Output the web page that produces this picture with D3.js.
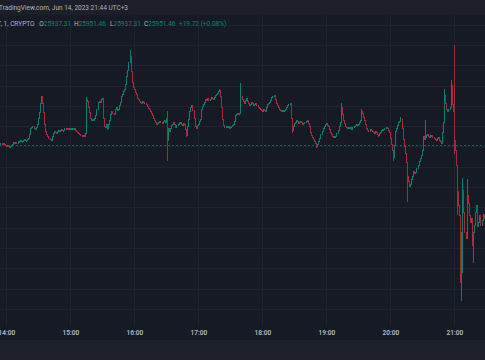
<!DOCTYPE html>
<html>
<head>
<meta charset="utf-8">
<script src="https://cdn.jsdelivr.net/npm/d3@7"></script>
<style>
  html, body { margin: 0; padding: 0; background: #161a25; }
  svg { display: block; font-family: Roboto, "Noto Sans", sans-serif; }
</style>
</head>
<body>
<div id="chart"></div>
<script>
// 1 minute candles, 13:54 -> 21:28 (UTC+3), closes
const closes = [
  26002,26003,26002,26003,26002,26001,26000,26001,26000,25999,26000,26001,26002,26004,26003,
  26004,26003,26005,26005,26006,26005,26005,26006,26007,26006,26006,26007,26008,26012,26018,
  26019,26020,26018,26017,26019,26022,26028,26033,26042,26049,26042,26033,26022,26015,26012,
  26010,26008,26007,26006,26010,26013,26015,26014,26013,26015,26016,26015,26016,26017,26016,
  26016,26018,26017,26018,26017,26018,26018,26017,26018,26017,26018,26016,26015,26014,26013,
  26012,26011,26010,26011,26010,26013,26046,26044,26038,26033,26028,26026,26027,26026,26028,
  26030,26036,26043,26044,26043,26046,26047,26028,26020,26019,26022,26018,26022,26026,26031,
  26034,26032,26031,26036,26038,26035,26036,26040,26043,26049,26051,26054,26056,26061,26069,
  26075,26083,26089,26074,26063,26058,26056,26053,26051,26047,26046,26044,26043,26042,26044,
  26043,26042,26041,26039,26037,26036,26034,26032,26030,26028,26026,26024,26022,26023,26024,
  26025,26024,26023,26025,26026,26024,26028,26006,26018,26015,26018,26021,26022,26024,26022,
  26019,26021,26022,26024,26024,26022,26021,26023,26022,26017,26011,26020,26027,26034,26038,
  26040,26035,26028,26020,26018,26021,26022,26025,26027,26036,26039,26041,26043,26046,26045,
  26047,26045,26046,26048,26047,26046,26048,26050,26051,26052,26054,26055,26049,26038,26027,
  26021,26019,26020,26019,26020,26018,26019,26020,26021,26022,26025,26030,26031,26032,26031,
  26032,26049,26046,26044,26042,26045,26047,26044,26042,26040,26041,26043,26042,26040,26041,
  26042,26040,26038,26037,26036,26035,26034,26036,26035,26034,26038,26041,26042,26043,26045,
  26048,26049,26050,26046,26042,26040,26038,26036,26035,26034,26035,26034,26035,26036,26038,
  26040,26041,26042,26028,26016,26020,26023,26024,26026,26025,26023,26024,26025,26024,26022,
  26023,26024,26025,26026,26023,26020,26014,26011,26009,26007,26005,26003,26000,26002,26005,
  26008,26012,26015,26018,26020,26022,26023,26021,26020,26017,26014,26012,26010,26009,26010,
  26010,26013,26016,26020,26024,26038,26031,26026,26023,26020,26019,26018,26019,26018,26019,
  26017,26019,26020,26021,26022,26021,26022,26024,26026,26034,26032,26029,26026,26022,26018,
  26016,26015,26017,26016,26015,26014,26013,26015,26014,26012,26011,26013,26014,26016,26017,
  26017,26018,26019,26018,26016,26014,26008,26002,25996,25989,26001,26015,26018,26021,26024,
  26025,26027,26018,26007,26000,25993,25984,25970,25965,25961,25963,25967,25970,25975,25973,
  25974,25978,25981,25985,25988,25991,25996,26010,26007,26009,26011,26012,26010,26009,26011,
  26011,26009,26008,26007,26006,26008,26009,26006,26005,26003,26014,26024,26050,26042,26036,
  26034,26036,26038,26060,26041,26034,26006,25996,25981,25956,25942,25932,25902,25915,25957,
  25935,25915,25909,25952,25944,25932,25925,25929,25902,25915,25922,25935,25942,25921,25925,
  25932,25922,25927,25933,25929
]
const firstOpen = 26003

// [candle index, high, low] where the wick sticks out of the body
const wicks = [
  [39, 26050, null], [48, null, 26005], [81, 26049, null], [101, null, 26016],
  [122, 26095, null], [157, 26035, 25986], [175, null, 26009], [206, 26057, null],
  [226, 26062, null], [257, 26051, null], [274, null, 26013], [297, null, 25998],
  [320, 26043, null], [339, 26037, null], [355, null, 26009], [369, null, 25986],
  [376, 26029, null], [382, null, 25945], [399, 26026, null], [417, 26057, null],
  [423, 26065, null], [426, 26100, 25993], [429, null, 25932], [432, null, 25866],
  [433, null, 25848], [434, 25969, 25875], [438, 25968, null], [444, null, 25885]
]

const hourTicks = ['14:00', '15:00', '16:00', '17:00', '18:00', '19:00', '20:00', '21:00']
const priceLevels = d3.range(25840, 26141, 20)
const prevClose = 26001

const titleLine = 'TradingView.com, Jun 14, 2023 21:44 UTC+3'
const symbolLine = 'BTCUSDT, 1, CRYPTO'
const ohlcNames = ['O', 'H', 'L', 'C']
const ohlcValues = ['25937.31', '25951.46', '25937.31', '25951.46']
const changeText = '+19.72 (+0.08%)'

const width = 485, height = 360
const paneTop = 15, paneBottom = 326
const upColor = '#0a806c', downColor = '#a32c3b'

const day = (h, m) => new Date(Date.UTC(2023, 5, 14, h, m))
const startTime = day(13, 54)
const parseTick = s => day(+s.slice(0, 2), +s.slice(3))

const x = d3.scaleUtc().domain([day(14, 0), day(21, 0)]).range([6.3, 454.3])
const y = d3.scaleLinear().domain([25840, 26140]).range([308.9, 4.3])

const candles = closes.map((c, i) => {
  const o = i ? closes[i - 1] : firstOpen
  return { t: new Date(+startTime + i * 60000), o, c, h: Math.max(o, c), l: Math.min(o, c) }
})
wicks.forEach(([i, h, l]) => {
  if (h !== null) candles[i].h = h
  if (l !== null) candles[i].l = l
})

const svg = d3.select('#chart').append('svg')
  .attr('width', width)
  .attr('height', height)

svg.append('rect').attr('width', width).attr('height', height).attr('fill', '#161a25')
svg.append('rect').attr('width', width).attr('height', paneTop).attr('fill', '#1c1f29')
svg.append('rect').attr('y', 340).attr('width', width).attr('height', 20).attr('fill', '#1e212b')

// grid
const grid = svg.append('g').attr('shape-rendering', 'crispEdges')
grid.selectAll('.hg').data(priceLevels).join('line')
  .attr('x1', 0).attr('x2', width)
  .attr('y1', d => Math.round(y(d)) + 0.5).attr('y2', d => Math.round(y(d)) + 0.5)
  .attr('stroke', '#1f2330')
  .style('display', d => (y(d) < paneTop || y(d) > paneBottom) ? 'none' : null)
grid.selectAll('.vg').data(hourTicks.map(parseTick)).join('line')
  .attr('x1', d => Math.round(x(d)) + 0.5).attr('x2', d => Math.round(x(d)) + 0.5)
  .attr('y1', paneTop).attr('y2', paneBottom)
  .attr('stroke', '#1f2330')

svg.append('line')
  .attr('x1', 0).attr('x2', width)
  .attr('y1', Math.round(y(prevClose)) + 0.5).attr('y2', Math.round(y(prevClose)) + 0.5)
  .attr('stroke', '#2a5251')
  .attr('stroke-dasharray', '2,2')
  .attr('shape-rendering', 'crispEdges')

// candles
const cg = svg.append('g').attr('shape-rendering', 'crispEdges')
const bars = cg.selectAll('g').data(candles).join('g')
  .attr('fill', d => d.c >= d.o ? upColor : downColor)
  .attr('stroke', d => d.c >= d.o ? upColor : downColor)
bars.append('line')
  .attr('x1', d => Math.floor(x(d.t)) + 0.5).attr('x2', d => Math.floor(x(d.t)) + 0.5)
  .attr('y1', d => y(d.h)).attr('y2', d => y(d.l))
  .attr('stroke-width', 1)
bars.append('rect')
  .attr('x', d => Math.floor(x(d.t)))
  .attr('width', 1)
  .attr('y', d => y(Math.max(d.o, d.c)) - 0.5)
  .attr('height', d => Math.max(2, y(Math.min(d.o, d.c)) - y(Math.max(d.o, d.c)) + 1))
  .attr('stroke', 'none')

// time axis
const axis = svg.append('g')
  .attr('transform', `translate(0,${paneBottom})`)
  .call(d3.axisBottom(x)
    .tickValues(hourTicks.map(parseTick))
    .tickFormat(d3.utcFormat('%H:%M'))
    .tickSize(0)
    .tickPadding(4))
axis.select('.domain').remove()
axis.selectAll('text')
  .attr('fill', '#b8bbc3')
  .style('font-size', '6.5px')
  .style('font-weight', 600)
  .style('font-family', 'Roboto, sans-serif')

// header
svg.append('text')
  .attr('x', -1).attr('y', 10)
  .attr('fill', '#b2b5be')
  .style('font-size', '6.5px')
  .text(titleLine)

const legend = svg.append('g').style('font-size', '6.5px')
legend.append('text')
  .attr('x', 34.5).attr('y', 26)
  .attr('text-anchor', 'end')
  .attr('fill', '#b2b5be')
  .text(symbolLine)
const legendX = [39.3, 74, 110, 144]
ohlcNames.forEach((n, i) => {
  const t = legend.append('text').attr('x', legendX[i]).attr('y', 26)
  t.append('tspan').attr('fill', '#b2b5be').text(n)
  t.append('tspan').attr('fill', '#0b8572').text(ohlcValues[i])
})
legend.append('text')
  .attr('x', 179).attr('y', 26)
  .attr('fill', '#0b8572')
  .text(changeText)
</script>
</body>
</html>
